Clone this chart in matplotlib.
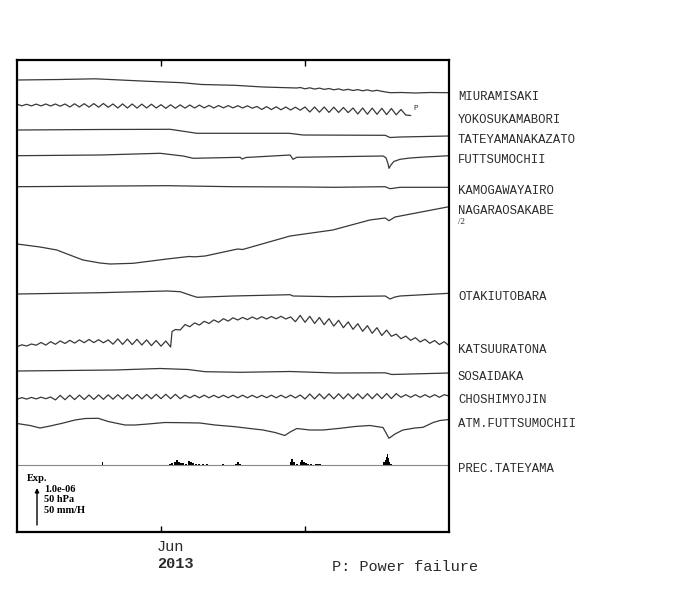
import matplotlib.pyplot as plt
import numpy as np
from matplotlib.transforms import blended_transform_factory

# x: days since 2 May 2013 (30 = 1 Jun, 60 = 1 Jul)
# y: chart units, the scale arrow is SCALE_LEN units long (1.0e-06 / 50 hPa / 50 mm/H)
SCALE_LEN = 37
month_ticks = [30, 60]
month_labels = ["Jun", ""]

stations = ["MIURAMISAKI", "YOKOSUKAMABORI", "TATEYAMANAKAZATO", "FUTTSUMOCHII",
            "KAMOGAWAYAIRO", "NAGARAOSAKABE", "OTAKIUTOBARA", "KATSUURATONA",
            "SOSAIDAKA", "CHOSHIMYOJIN", "ATM.FUTTSUMOCHII"]

miura_days = [0, 9, 16.25, 27.3, 34.4, 38.5, 45.4, 51.25, 58.3,
              59, 60, 61, 62, 63, 64, 65, 66, 67, 68, 69, 70, 71, 72, 73, 74, 75, 76,
              77.7, 80, 83, 86, 90]
miura_vals = [0, 0.5, 1.2, -1.3, -2.7, -4.5, -5.3, -7, -8,
              -7.5, -8.8, -7.8, -9.1, -8.1, -9.4, -8.5, -9.8, -8.9, -10.2, -9.3, -10.5,
              -9.6, -10.8, -9.9, -11.1, -10.3, -11.3,
              -12.7, -12.5, -13, -12.5, -12.7]

# daily values, record stops on day 82 (power failure)
yokosuka_vals = [0.8, -0.8, 0.7, -0.9, 0.9, -0.9, 1.0, -1.0, 1.0, -1.2,
                 1.0, -2.0, 1.2, -2.0, 1.3, -2.1, 1.4, -2.2, 1.5, -2.3,
                 1.0, -3.0, 1.1, -3.0, 1.0, -3.1, 0.9, -3.0, 0.8, -3.0,
                 0.3, -3.3, 0.2, -3.2, 0.1, -3.1, 0.0, -3.0, -0.1, -2.9,
                 -0.4, -3.0, -0.5, -2.9, -0.6, -2.9, -0.7, -3.0, -0.8, -3.2,
                 -1.5, -4.5, -1.6, -4.6, -1.8, -4.8, -2.0, -5.0, -2.2, -5.2,
                 -2.0, -7.0, -2.0, -7.2, -2.0, -7.4, -2.2, -7.5, -2.5, -7.6,
                 -3.0, -9.0, -3.0, -9.2, -3.1, -9.3, -3.3, -9.6, -3.5, -9.8,
                 -4.5, -10.0, -10.5]

tateyama_days = [0, 17.3, 31.9, 37.5, 56.7, 59.6, 76.7, 77.7, 79.8, 90]
tateyama_vals = [0, 0.5, 0.7, -3.3, -3.3, -5, -5.3, -7.5, -7, -6]

futtsu_days = [0, 17.3, 29.8, 34.6, 36.7, 46.5, 46.9, 47.7, 56.9, 57.5, 58.3,
               76.3, 76.9, 77.3, 77.5, 77.9, 78.5, 79.8, 81.9, 85, 90]
futtsu_vals = [0, 0.7, 2.4, -0.3, -2.6, -1.6, -3.3, -1.8, 0.7, -3.6, -1.6,
               -0.3, -2.3, -8.3, -12.6, -9.3, -5.8, -3.6, -2.3, -1.3, 0]

kamogawa_days = [0, 10, 20, 31.3, 45, 60, 66, 76.7, 77.7, 79.8, 90]
kamogawa_vals = [0, 0.3, 0.7, 1, 0, -0.3, -0.6, 0, -2, -0.6, -0.6]

# plotted at half amplitude (/2)
nagara_days = [0, 4.8, 8.3, 11, 13.75, 17.3, 19.4, 24.2, 31.25, 35.8, 37.1, 39.2,
               45, 46, 47, 56.9, 65.8, 73.5, 76.7, 77.5, 78.75, 90]
nagara_vals = [0, -3, -6, -11, -16, -19, -20, -19.3, -15, -12.5, -12.8, -12,
               -6, -5, -5.5, 8, 14, 24, 26, 23.3, 27, 37.3]

otaki_days = [0, 17.3, 31.25, 34, 36, 37.5, 45, 56.9, 57.5, 65.8, 76.7, 77.7, 78.75, 79.8, 90]
otaki_vals = [0, 1.3, 3, 2.3, -1, -3.3, -2, -0.7, -2, -2.7, -2, -5, -3, -2, 0.7]

# daily values, with the offset on day 32.3
katsuura_days = [0, 1, 2, 3, 4, 5, 6, 7, 8, 9,
                 10, 11, 12, 13, 14, 15, 16, 17, 18, 19,
                 20, 21, 22, 23, 24, 25, 26, 27, 28, 29,
                 30, 31, 32, 32.3, 33, 34, 35, 36, 37, 38, 39,
                 40, 41, 42, 43, 44, 45, 46, 47, 48, 49,
                 50, 51, 52, 53, 54, 55, 56, 57, 58, 59,
                 60, 61, 62, 63, 64, 65, 66, 67, 68, 69,
                 70, 71, 72, 73, 74, 75, 76, 77, 78, 79,
                 80, 81, 82, 83, 84, 85, 86, 87, 88, 89,
                 90]
katsuura_vals = [0.2, 2.2, 1.0, 3.0, 1.8, 4.5, 1.9, 5.3, 2.7, 6.1,
                 3.5, 6.7, 3.9, 7.1, 4.3, 7.5, 4.4, 7.3, 4.2, 7.1,
                 2.8, 8.1, 2.6, 7.9, 2.4, 7.7, 2.0, 7.1, 1.4, 6.5,
                 0.8, 6.0, 0.0, 15.5, 17.5, 17.0, 22.5, 20.3, 24.1, 21.9, 25.7,
                 23.5, 27.1, 24.7, 28.3, 25.9, 29.2, 27.0, 29.6, 27.4, 30.0,
                 27.8, 30.3, 28.0, 30.5, 28.2, 30.7, 28.0, 30.1, 25.3, 31.6,
                 24.7, 30.7, 23.5, 29.5, 22.3, 28.3, 20.9, 26.7, 19.3, 25.1,
                 17.7, 23.3, 15.7, 21.3, 13.7, 19.3, 11.5, 16.9, 10.7, 12.9,
                 8.3, 10.9, 6.7, 9.3, 5.1, 7.7, 3.7, 6.5, 2.5, 5.3,
                 1.3]

sosai_days = [0, 20.4, 29.8, 35.6, 39.2, 46.5, 56.9, 66.25, 76.7, 78.1, 90]
sosai_vals = [0, 1, 2.5, 1.5, -0.7, -1.3, -0.5, -2, -1.8, -3.5, -2]

choshi_vals = [-0.8, 0.9, -0.6, 1.1, -0.4, 1.3, -0.2, 1.5, -1.4, 3.1,
               -1.2, 3.3, -1.1, 3.4, -1.0, 3.5, -0.9, 3.6, -0.8, 3.7,
               -0.7, 3.8, -0.6, 3.9, -0.5, 4.0, -0.4, 4.1, -0.3, 4.2,
               -0.2, 4.2, -0.2, 4.2, -0.2, 3.3, 0.7, 3.3, 0.7, 3.3,
               0.7, 3.2, 0.8, 3.2, 0.8, 3.3, 0.7, 3.3, 0.7, 3.2,
               0.8, 3.2, 0.8, 3.3, 0.7, 3.3, 0.7, 3.4, 0.6, 3.5,
               -0.5, 4.5, -0.4, 4.6, -0.3, 4.7, -0.3, 4.7, -0.3, 4.7,
               -0.3, 4.7, -0.2, 4.8, -0.2, 4.8, -0.1, 4.9, -0.1, 4.9,
               1.2, 3.8, 1.2, 3.8, 1.2, 3.8, 1.2, 3.8, 1.2, 3.8,
               2.5]

atm_days = [0, 2.7, 4.8, 6.9, 9.4, 12.1, 14.2, 16.9, 19, 22.5, 24.6, 27.3, 30.8,
            34.4, 38.1, 41.25, 45.4, 48.5, 51.25, 53.75, 55.8, 56.9, 58.3, 61,
            63.75, 67.3, 70.4, 73.5, 76.25, 77.5, 78.75, 80.4, 82.9, 84.6, 86.7, 88.1, 90]
atm_vals = [0, -2, -4.5, -2.5, 0.2, 3.5, 5, 5.2, 2, -1.5, -1.5, -0.5, 1,
            0.8, 0.5, -1.5, -3.2, -5, -6.5, -9, -12, -8.5, -5, -6.5,
            -6.5, -4.8, -3, -2, -4, -14.8, -10.5, -6.5, -4.5, -3.8, 1, 3, 4]

prec_days = [17.8, 31.9, 32.3, 32.9, 33.3, 33.75, 34.2, 34.6, 35.2, 35.8, 36.25, 36.7,
             37.3, 37.9, 38.75, 39.6, 42.9, 45.6, 46, 46.5, 57.1, 57.3, 57.7, 58.3,
             59.2, 59.4, 59.8, 60.2, 60.6, 61.25, 62.3, 62.7, 63.1, 70,
             76.5, 76.8, 77, 77.2, 77.4, 77.6, 77.9]
prec_vals = [3.5, 1.5, 2.5, 3, 5, 3.5, 2, 2, 1.5, 4.5, 3, 2,
             1.5, 1, 0.8, 0.6, 0.6, 1.5, 3.5, 1.5, 3, 6.5, 3.5, 1.5,
             3, 5, 3, 2, 1.5, 0.8, 0.8, 1.3, 0.8, 0.5,
             3, 5, 8, 11.5, 7, 3.5, 1]

series = [
    (miura_days, miura_vals),
    (np.arange(len(yokosuka_vals)), yokosuka_vals),
    (tateyama_days, tateyama_vals),
    (futtsu_days, futtsu_vals),
    (kamogawa_days, kamogawa_vals),
    (nagara_days, nagara_vals),
    (otaki_days, otaki_vals),
    (katsuura_days, katsuura_vals),
    (sosai_days, sosai_vals),
    (np.arange(len(choshi_vals)), choshi_vals),
    (atm_days, atm_vals),
]
# vertical place of each trace in the stack
offsets = [452, 427, 402, 376.3, 345.3, 288, 238, 185, 161, 133.5, 108.5]
prec_base = 67

mono = "Liberation Mono"
serif = "Liberation Serif"
line_col = "#383838"
text_col = "#2a2a2a"

fig = plt.figure(figsize=(7, 5.9), dpi=100)
ax = fig.add_axes([17 / 700, 58 / 590, 432 / 700, 472 / 590])
ax.set_xlim(0, 90)
ax.set_ylim(0, 472)

for name, (d, v), off in zip(stations, series, offsets):
    y = off + np.asarray(v, dtype=float)
    ax.plot(d, y, color=line_col, lw=0.9, solid_joinstyle="round", clip_on=False)
    ax.annotate(name, xy=(1.0208, y[-1]), xycoords=("axes fraction", "data"),
                xytext=(0, -3), textcoords="offset points", ha="left", va="center",
                fontsize=8.8, family=mono, color=text_col, annotation_clip=False)

# power failure mark
ax.annotate("P", xy=(len(yokosuka_vals) - 1, offsets[1] + yokosuka_vals[-1]),
            xytext=(2, 5), textcoords="offset points", fontsize=5.5, family=mono,
            color=text_col, ha="left", va="center")
ax.annotate("/2", xy=(1.0208, offsets[5] + nagara_vals[-1]), xycoords=("axes fraction", "data"),
            xytext=(0, -11), textcoords="offset points", fontsize=6.5, family=serif,
            color=text_col, ha="left", va="center", annotation_clip=False)

# precipitation
ax.axhline(prec_base, color="#888888", lw=0.8)
ax.bar(prec_days, prec_vals, width=0.35, bottom=prec_base, color="black", lw=0)
ax.annotate("PREC.TATEYAMA", xy=(1.0208, prec_base), xycoords=("axes fraction", "data"),
            xytext=(0, -3), textcoords="offset points", ha="left", va="center",
            fontsize=8.8, family=mono, color=text_col, annotation_clip=False)

# scale legend
tr = blended_transform_factory(ax.transAxes, ax.transData)
ax.annotate("", xy=(0.0463, 7 + SCALE_LEN), xytext=(0.0463, 7), xycoords=tr, textcoords=tr,
            arrowprops=dict(arrowstyle="-|>", lw=1.0, color="black", mutation_scale=6,
                            shrinkA=0, shrinkB=0))
ax.text(0.0231, 0.1144, "Exp.", transform=ax.transAxes, fontsize=7.5, family=serif,
        weight="bold", va="center", ha="left")
for txt, yy in zip(["1.0e-06", "50 hPa", "50 mm/H"], [0.0911, 0.0699, 0.0466]):
    ax.text(0.0625, yy, txt, transform=ax.transAxes, fontsize=7.5, family=serif,
            weight="bold", va="center", ha="left")

ax.set_xticks(month_ticks)
ax.set_xticklabels([])
ax.set_yticks([])
ax.tick_params(axis="x", direction="in", length=4, width=1, top=True)
for s in ax.spines.values():
    s.set_linewidth(1.6)

ax.annotate(month_labels[0], xy=(month_ticks[0], 0), xycoords=("data", "axes fraction"),
            xytext=(-3, -6), textcoords="offset points", ha="left", va="top",
            fontsize=11, family=mono, color=text_col)
ax.annotate("2013", xy=(month_ticks[0], 0), xycoords=("data", "axes fraction"),
            xytext=(-3, -18), textcoords="offset points", ha="left", va="top",
            fontsize=11, family=mono, weight="bold", color=text_col)

fig.text(405 / 700, 1 - 567 / 590, "P: Power failure", ha="center", va="center",
         fontsize=11, family=mono, color=text_col)

fig.savefig("out.png", dpi=100)
